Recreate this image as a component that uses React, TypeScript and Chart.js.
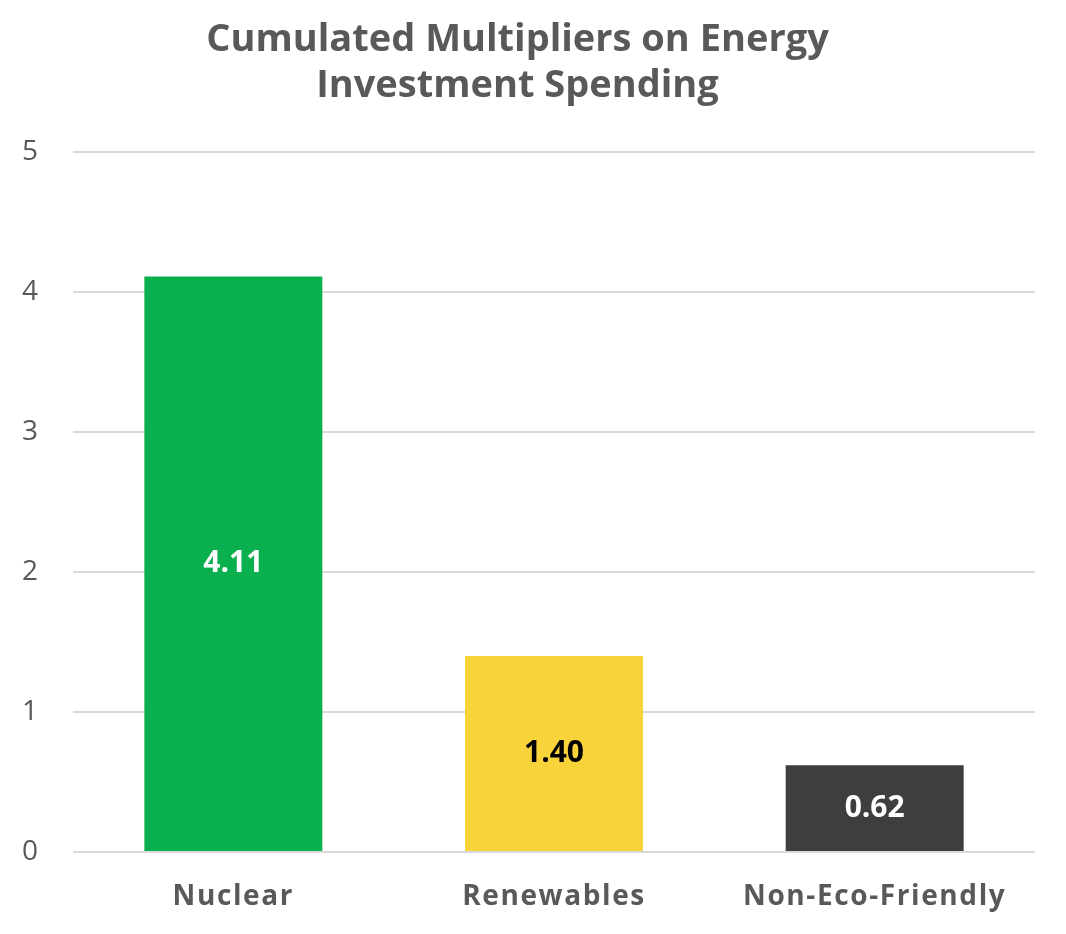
import React, { useEffect, useRef } from "react";
import { Chart, registerables, CategoryScale } from "chart.js";

Chart.register(...registerables);

class SpacedCategoryScale extends (CategoryScale as any) {
  static id = "spacedCategory";
  static defaults = (CategoryScale as any).defaults;
  drawLabels(area: any) {
    const ctx = (this as any).ctx;
    ctx.save();
    (ctx as any).letterSpacing = "1.6px";
    super.drawLabels(area);
    ctx.restore();
  }
}
Chart.register(SpacedCategoryScale as any);

const categories = ["Nuclear", "Renewables", "Non-Eco-Friendly"];
const values = [4.11, 1.4, 0.62];
const barColors = ["#0AAF4E", "#F9D33A", "#3D3E3D"];
const labelColors = ["#FFFFFF", "#000000", "#FFFFFF"];
const titleLines = ["Cumulated Multipliers on Energy", "Investment Spending"];

const valueLabels = {
  id: "valueLabels",
  afterDatasetsDraw(chart: any) {
    const ctx = chart.ctx;
    const meta = chart.getDatasetMeta(0);
    ctx.save();
    ctx.font = "bold 30px 'Open Sans'";
    ctx.textAlign = "center";
    ctx.textBaseline = "middle";
    meta.data.forEach((bar: any, i: number) => {
      const { x, y, base } = bar.getProps(["x", "y", "base"], true);
      ctx.fillStyle = labelColors[i];
      ctx.fillText(values[i].toFixed(2), x, (y + base) / 2);
    });
    ctx.restore();
  },
};

export default function App() {
  const ref = useRef<HTMLCanvasElement>(null);
  useEffect(() => {
    const chart = new Chart(ref.current!, {
      type: "bar",
      data: {
        labels: categories,
        datasets: [
          {
            data: values,
            backgroundColor: barColors,
            categoryPercentage: 1,
            barPercentage: 0.555,
          },
        ],
      },
      options: {
        responsive: false,
        animation: false,
        devicePixelRatio: 1,
        layout: { padding: { left: 0, right: 31, top: 17, bottom: 0 } },
        plugins: {
          legend: { display: false },
          tooltip: { enabled: false },
          title: {
            display: true,
            text: titleLines,
            color: "#595959",
            font: { family: "'Open Sans'", size: 38, weight: "bold", lineHeight: 1.21 },
            padding: { top: 0, bottom: 43 },
          },
        },
        scales: {
          x: {
            type: "spacedCategory" as any,
            grid: { display: false, drawTicks: false },
            border: { display: false },
            ticks: {
              color: "#595959",
              font: { family: "'Open Sans'", size: 28, weight: "bold" },
              padding: 28,
              maxRotation: 0,
            },
            afterFit(scale: any) {
              scale.height = 82;
            },
          },
          y: {
            min: 0,
            max: 5,
            border: { display: false },
            grid: { color: "#D9D9D9", lineWidth: 2, drawTicks: false },
            ticks: {
              stepSize: 1,
              color: "#595959",
              font: { family: "'Open Sans'", size: 28 },
              padding: 35,
            },
            afterFit(scale: any) {
              scale.width = 73;
            },
          },
        },
      },
      plugins: [valueLabels],
    });
    return () => chart.destroy();
  }, []);
  return (
    <div style={{ position: "fixed", left: 0, top: 0, width: 1066, height: 934, background: "#fff" }}>
      <canvas ref={ref} width={1066} height={934} />
    </div>
  );
}
